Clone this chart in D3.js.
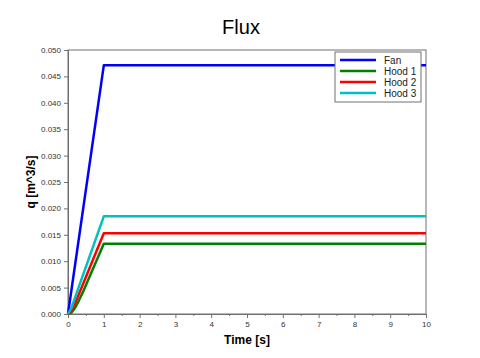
<!DOCTYPE html>
<html>
<head>
<meta charset="utf-8">
<script src="https://cdn.jsdelivr.net/npm/d3@7"></script>
<style>
  body { margin: 0; background: #fff; }
  svg { display: block; font-family: "Liberation Sans", Arial, sans-serif; }
</style>
</head>
<body>
<svg id="chart" width="480" height="358"></svg>
<script>
// series data (time in s, flow in m^3/s)
const seriesNames = ['Fan', 'Hood 1', 'Hood 2', 'Hood 3'];
const seriesColors = ['#0000ff', '#008000', '#ff0000', '#00c0c0'];
const fanT = [0, 1, 10];
const fanQ = [0, 0.0471, 0.0471];
const hood1T = [0, 0.1, 0.2, 0.3, 0.4, 1, 10];
const hood1Q = [0, 0.0003, 0.0012, 0.0025, 0.0039, 0.0133, 0.0133];
const hood2T = [0, 0.1, 0.2, 0.3, 1, 10];
const hood2Q = [0, 0.0007, 0.0021, 0.0037, 0.0153, 0.0153];
const hood3T = [0, 0.1, 0.2, 1, 10];
const hood3Q = [0, 0.0012, 0.0032, 0.0185, 0.0185];
const xTicks = [0, 1, 2, 3, 4, 5, 6, 7, 8, 9, 10];
const yTicks = [0, 0.005, 0.01, 0.015, 0.02, 0.025, 0.03, 0.035, 0.04, 0.045, 0.05];

const series = [
  { t: fanT, q: fanQ },
  { t: hood1T, q: hood1Q },
  { t: hood2T, q: hood2Q },
  { t: hood3T, q: hood3Q }
].map((s, i) => ({
  name: seriesNames[i],
  color: seriesColors[i],
  pts: s.t.map((t, j) => [t, s.q[j]])
}));

const svg = d3.select('#chart');
const margin = { top: 50, right: 54, bottom: 44, left: 68 };
const width = 480 - margin.left - margin.right;
const height = 358 - margin.top - margin.bottom;
const axisColor = '#707070';

const x = d3.scaleLinear().domain([0, 10]).range([0, width]);
const y = d3.scaleLinear().domain([0, 0.05]).range([height, 0]);

const g = svg.append('g')
    .attr('transform', `translate(${margin.left},${margin.top})`);

// frame
g.append('rect')
    .attr('width', width)
    .attr('height', height)
    .attr('fill', 'none')
    .attr('stroke', axisColor)
    .attr('stroke-width', 1);

// x-axis (major + minor ticks)
g.append('g')
    .attr('transform', `translate(0,${height})`)
    .call(d3.axisBottom(x).tickValues(xTicks).tickSize(4).tickPadding(3).tickFormat(d3.format('d')));
g.append('g')
    .attr('transform', `translate(0,${height})`)
    .call(d3.axisBottom(x).tickValues(d3.range(0.5, 10, 1)).tickSize(2).tickFormat(''))
    .call(a => a.select('.domain').remove());

// y-axis
g.append('g')
    .call(d3.axisLeft(y).tickValues(yTicks).tickSize(4).tickPadding(3).tickFormat(d3.format('.3f')));

g.selectAll('.domain').attr('stroke', axisColor);
g.selectAll('.tick line').attr('stroke', axisColor);
g.selectAll('.tick text').attr('fill', '#333').style('font-size', '8px');

// lines
const line = d3.line().x(d => x(d[0])).y(d => y(d[1]));
g.append('g')
    .selectAll('path')
    .data(series)
    .enter()
    .append('path')
    .attr('d', d => line(d.pts))
    .attr('fill', 'none')
    .attr('stroke', d => d.color)
    .attr('stroke-width', 2.5)
    .attr('stroke-linejoin', 'round');

// title and axis labels
svg.append('text')
    .attr('x', 241)
    .attr('y', 34)
    .attr('text-anchor', 'middle')
    .style('font-size', '20px')
    .text('Flux');

svg.append('text')
    .attr('x', margin.left + width / 2)
    .attr('y', 344)
    .attr('text-anchor', 'middle')
    .style('font-size', '12px')
    .style('font-weight', 'bold')
    .text('Time [s]');

svg.append('text')
    .attr('transform', `translate(35,${margin.top + height / 2}) rotate(-90)`)
    .attr('text-anchor', 'middle')
    .style('font-size', '12px')
    .style('font-weight', 'bold')
    .text('q [m^3/s]');

// legend
const legend = svg.append('g').attr('transform', 'translate(335,52)');
legend.append('rect')
    .attr('width', 86)
    .attr('height', 50)
    .attr('fill', '#fff')
    .attr('stroke', axisColor);
const rows = legend.selectAll('.row')
    .data(series)
    .enter()
    .append('g')
    .attr('class', 'row')
    .attr('transform', (d, i) => `translate(0,${8 + i * 11})`);
rows.append('line')
    .attr('x1', 5).attr('x2', 41)
    .attr('stroke', d => d.color)
    .attr('stroke-width', 2.5);
rows.append('text')
    .attr('x', 49)
    .attr('y', 4)
    .style('font-size', '10px')
    .attr('fill', '#222')
    .text(d => d.name);
</script>
</body>
</html>
